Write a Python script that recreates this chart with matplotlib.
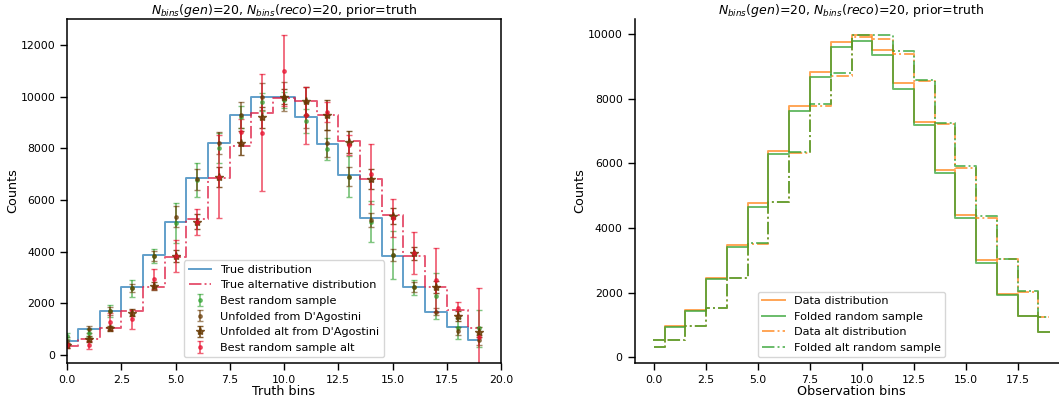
import numpy as np
import matplotlib
matplotlib.use("Agg")
import matplotlib.pyplot as plt

# =========================================================================
# 1. DATA
# =========================================================================
truth_bins = np.arange(20)
obs_bins = np.arange(20)

true_dist = [560, 1020, 1710, 2640, 3870, 5160, 6830, 8190, 9270, 10000,
             10000, 9220, 8160, 6960, 5310, 3820, 2640, 1650, 1070, 580]
true_alt_dist = [350, 610, 1030, 1710, 2640, 3800, 5250, 6860, 8100, 9370,
                 9940, 9840, 9300, 8270, 6800, 5420, 3830, 2640, 1740, 1030]

best_sample = [740, 840, 1710, 2580, 3830, 5100, 6770, 8000, 9220, 9780,
               9860, 9050, 7960, 6900, 5160, 3870, 2620, 2300, 1030, 1030]
best_sample_err = [120, 150, 225, 320, 290, 770, 650, 580, 420, 350,
                   300, 450, 425, 800, 790, 930, 290, 890, 420, 710]

unfolded = [560, 990, 1710, 2580, 3830, 5350, 6800, 8210, 9300, 9990,
            10000, 9280, 8190, 6900, 5220, 3870, 2620, 1680, 940, 580]
unfolded_err = [150, 120, 150, 150, 200, 400, 400, 425, 500, 520,
                570, 500, 515, 375, 260, 225, 200, 150, 150, 200]

unfolded_alt = [380, 610, 1030, 1640, 2670, 3830, 5160, 6900, 8200, 9200,
                10000, 9830, 9280, 8250, 6810, 5380, 3930, 2640, 1510, 900]
unfolded_alt_err = [100, 120, 100, 150, 150, 230, 300, 390, 470, 400,
                    300, 550, 580, 420, 390, 320, 260, 240, 200, 200]

best_alt = [380, 390, 1290, 1380, 2930, 3830, 5160, 6900, 8640, 8600,
            11000, 9280, 9400, 8120, 7000, 5300, 3940, 2900, 1810, 700]
best_alt_err = [100, 170, 320, 370, 390, 625, 500, 1610, 480, 2260,
                1380, 1100, 400, 400, 1150, 750, 800, 1250, 250, 1880]

data_dist = [535, 950, 1463, 2434, 3486, 4763, 6381, 7773, 8826, 9754,
             9970, 9527, 8497, 7291, 5794, 4401, 3000, 1949, 1259, 783]
folded_sample = [529, 918, 1432, 2413, 3424, 4661, 6279, 7618, 8682, 9600,
                 9785, 9372, 8311, 7176, 5691, 4300, 2929, 1928, 1259, 783]
data_alt_dist = [300, 535, 968, 1516, 2434, 3517, 4794, 6330, 7794, 8722,
                 9920, 9858, 9403, 8558, 7207, 5867, 4321, 3031, 2001, 1247]
folded_alt_sample = [309, 535, 968, 1516, 2434, 3548, 4794, 6350, 7856, 8806,
                     9991, 9991, 9475, 8599, 7259, 5917, 4371, 3031, 2041, 1227]

title = r"$N_{bins}(gen)$=20, $N_{bins}(reco)$=20, prior=truth"

# =========================================================================
# 2. STYLE
# =========================================================================
plt.rcParams.update({
    "font.family": "DejaVu Sans",
    "axes.linewidth": 1.1,
    "xtick.major.size": 5,
    "ytick.major.size": 5,
    "xtick.major.width": 1.0,
    "ytick.major.width": 1.0,
    "xtick.labelsize": 7.8,
    "ytick.labelsize": 7.8,
    "axes.labelsize": 9.2,
    "axes.titlesize": 9,
    "legend.fontsize": 8.1,
    "lines.linewidth": 1.4,
})

fig = plt.figure(figsize=(10.59, 4.0), dpi=100)
ax1 = fig.add_axes([0.0633, 0.0925, 0.4098, 0.86])
ax2 = fig.add_axes([0.5992, 0.0925, 0.4098, 0.86])

# =========================================================================
# 3. TRUTH LEVEL
# =========================================================================
ax1.step(truth_bins, true_dist, where="mid", color="#1f77b4", alpha=0.7,
         label="True distribution")
ax1.step(truth_bins, true_alt_dist, where="mid", color="crimson", alpha=0.7,
         linestyle="-.", label="True alternative distribution")

eb_kw = dict(capsize=2.5, elinewidth=1.3, markersize=5)
ax1.errorbar(truth_bins, best_sample, yerr=best_sample_err, fmt=".",
             color="#2ca02c", alpha=0.6, label="Best random sample", **eb_kw)
ax1.errorbar(truth_bins, unfolded, yerr=unfolded_err, fmt=".",
             color="#653700", alpha=0.6, label="Unfolded from D'Agostini", **eb_kw)
ax1.errorbar(truth_bins, unfolded_alt, yerr=unfolded_alt_err, fmt="*",
             color="#653700", alpha=0.8, label="Unfolded alt from D'Agostini",
             capsize=2.5, elinewidth=1.3, markersize=6)
ax1.errorbar(truth_bins, best_alt, yerr=best_alt_err, fmt=".",
             color="#e8102e", alpha=0.65, label="Best random sample alt", **eb_kw)

ax1.set_xlim(0, 20)
ax1.set_ylim(-310, 13000)
ax1.set_xlabel("Truth bins", labelpad=0)
ax1.set_ylabel("Counts", labelpad=1)
ax1.set_title(title, pad=2)
ax1.tick_params(direction="out", top=False, right=False)
ax1.legend(loc="lower center")

# =========================================================================
# 4. OBSERVATION LEVEL
# =========================================================================
ax2.step(obs_bins, data_dist, where="mid", color="#ff7f0e", alpha=0.7,
         label="Data distribution")
ax2.step(obs_bins, folded_sample, where="mid", color="#2ca02c", alpha=0.7,
         label="Folded random sample")
ax2.step(obs_bins, data_alt_dist, where="mid", color="#ff7f0e", alpha=0.7,
         linestyle="-.", label="Data alt distribution")
ax2.step(obs_bins, folded_alt_sample, where="mid", color="#2ca02c", alpha=0.7,
         linestyle="-.", label="Folded alt random sample")

ax2.set_xlabel("Observation bins", labelpad=0)
ax2.set_ylabel("Counts", labelpad=1)
ax2.set_title(title, pad=2)
ax2.spines["top"].set_visible(False)
ax2.spines["right"].set_visible(False)
ax2.tick_params(direction="out")
ax2.legend(loc="lower center")

fig.savefig("out.png", dpi=100)
